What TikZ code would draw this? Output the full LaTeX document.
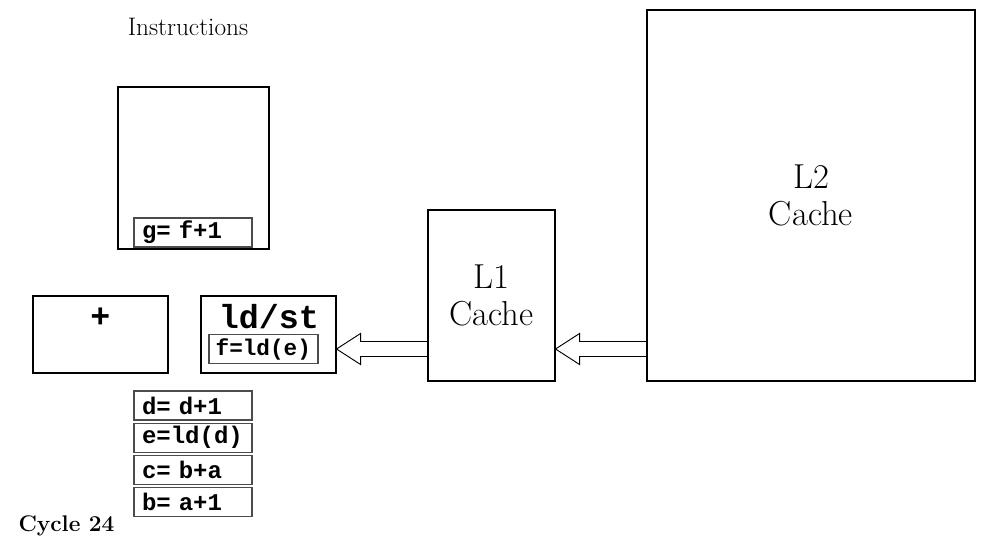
\documentclass[tikz,border=0pt]{standalone}
\usepackage{fontspec}
\setmonofont{Liberation Mono}
\usetikzlibrary{positioning,calc}

\tikzset{
  unit/.style={draw,line width=0.8pt,minimum width=101.25pt,minimum height=57.75pt,inner sep=0pt},
  instr/.style={draw=black!70,line width=0.8pt,text width=76.5pt,inner xsep=6pt,inner ysep=0pt,
    minimum height=21.75pt,align=left,font=\ttfamily\bfseries\fontsize{18}{19}\selectfont},
  cache/.style={draw,line width=0.8pt,align=center,font=\fontsize{26}{28}\selectfont},
  fat/.style={draw,line width=0.7pt,to path={($(\tikztostart)+(0,7.5)$) -- ($(\tikztotarget)+(24,7.5)$)
    -- ($(\tikztotarget)+(24,15.5)$) -- (\tikztotarget) -- ($(\tikztotarget)+(24,-15.5)$)
    -- ($(\tikztotarget)+(24,-7.5)$) -- ($(\tikztostart)+(0,-7.5)$)}}
}

\begin{document}
\begin{tikzpicture}[x=0.75pt,y=-0.75pt]
  \useasboundingbox (0,0) rectangle (984,542);

  % instruction window
  \node[font=\fontsize{19}{21}\selectfont] (title) at (188,27) {Instructions};
  \node[draw,line width=0.8pt,minimum width=113.25pt,minimum height=121.5pt] (win) at (193.5,168) {};
  \node[instr] (qg) at (193,232.5) {g= f+1};

  % functional units
  \node[unit] (add) at (100.5,334.5) {};
  \node[font=\ttfamily\bfseries\fontsize{25}{26}\selectfont] (addl) at (100.5,318) {+};
  \node[unit] (ldst) at (268.5,334.5) {};
  \node[font=\ttfamily\bfseries\fontsize{25}{26}\selectfont] (ldstl) at (269,317) {ld/st};
  \node[instr,text width=71.75pt,inner xsep=5pt,font=\ttfamily\bfseries\fontsize{17}{18}\selectfont]
    (qf) at (263.5,349) {f=ld(e)};

  % retired
  \node[instr] (qd) at (193,405.5) {d= d+1};
  \node[instr,below=1.5pt of qd] (qe) {e=ld(d)};
  \node[instr,below=1.5pt of qe] (qc) {c= b+a};
  \node[instr,below=1.5pt of qc] (qb) {b= a+1};

  \node[font=\bfseries\fontsize{17}{19}\selectfont] (cyc) at (66.5,526) {Cycle 24};

  % caches
  \node[cache,minimum width=95.25pt,minimum height=128.25pt] (l1) at (491.5,295.5) {L1\\Cache};
  \node[cache,minimum width=246pt,minimum height=278.25pt] (l2) at (811,195.5) {L2\\Cache};

  \coordinate (a1s) at (l1.west |- qf);
  \coordinate (a1e) at (ldst.east |- qf);
  \coordinate (a2s) at (l2.west |- qf);
  \coordinate (a2e) at (l1.east |- qf);
  \path (a1s) edge[fat] (a1e)
        (a2s) edge[fat] (a2e);
\end{tikzpicture}
\end{document}
